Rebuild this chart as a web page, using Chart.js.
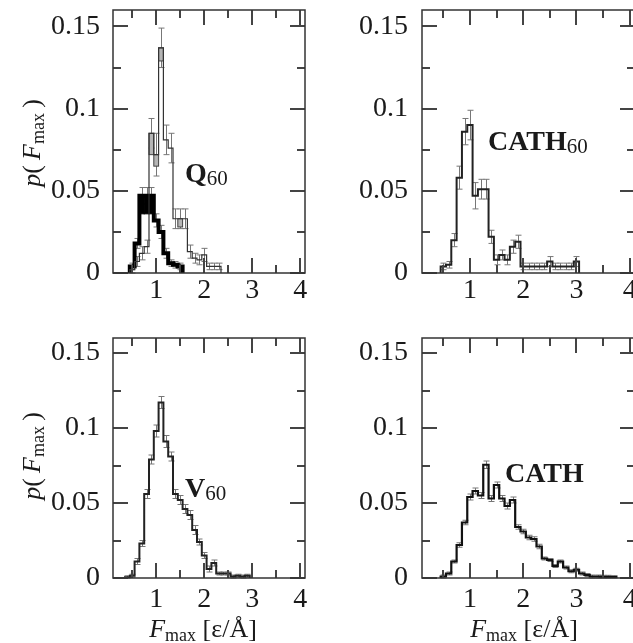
<!DOCTYPE html>
<html>
<head>
<meta charset="utf-8">
<script src="https://cdn.jsdelivr.net/npm/chart.js@4.4.1/dist/chart.umd.min.js"></script>
<style>
html, body { margin: 0; padding: 0; background: #fff; overflow: hidden; width: 633px; height: 643px; }
canvas { position: absolute; }
.t { position: absolute; font-family: 'Liberation Serif', serif; color: #1a1a1a; white-space: nowrap; line-height: 1; }
.lbl { font-size: 28px; font-weight: bold; }
.lbl sub { font-size: 21px; font-weight: normal; vertical-align: -3px; line-height: 0; }
.title { font-size: 26px; }
.title sub { font-size: 18px; vertical-align: -4px; line-height: 0; }
.ytitle { transform: translate(-50%, -50%) rotate(-90deg); }
.xtitle { transform: translateX(-50%); }
</style>
</head>
<body>

<canvas id="p1" width="316" height="310" style="left:0;top:0"></canvas>
<canvas id="p2" width="334" height="310" style="left:316px;top:0"></canvas>
<canvas id="p3" width="316" height="333" style="left:0;top:310px"></canvas>
<canvas id="p4" width="334" height="333" style="left:316px;top:310px"></canvas>

<div class="t lbl" style="left:185px;top:159px">Q<sub>60</sub></div>
<div class="t lbl" style="left:488px;top:127px">CATH<sub>60</sub></div>
<div class="t lbl" style="left:185px;top:474px">V<sub>60</sub></div>
<div class="t lbl" style="left:505px;top:459px">CATH</div>

<div class="t title ytitle" style="left:32px;top:143px"><i>p</i>(&thinsp;<i>F</i><sub>max</sub>&thinsp;)</div>
<div class="t title ytitle" style="left:32px;top:456px"><i>p</i>(&thinsp;<i>F</i><sub>max</sub>&thinsp;)</div>
<div class="t title xtitle" style="left:203px;top:616px"><i>F</i><sub>max</sub> [ε/Å]</div>
<div class="t title xtitle" style="left:524px;top:616px"><i>F</i><sub>max</sub> [ε/Å]</div>

<script>
// axes
const xRange = [0.1, 4.1];
const yRange = [0, 0.16];
const xTickVals = [1, 2, 3, 4];
const xTickLabels = ['1', '2', '3', '4'];
const xMinorVals = [0.5, 1.5, 2.5, 3.5];
const yTickVals = [0, 0.05, 0.1, 0.15];
const yTickLabels = ['0', '0.05', '0.1', '0.15'];
const yMinorVals = [0.025, 0.075, 0.125];
const binWidth = 0.1;

// Q60 (thin line, grey boxes)
const q60Bins   = [0.5, 0.6, 0.7, 0.8, 0.9, 1.0, 1.1, 1.2, 1.3, 1.4, 1.5, 1.6, 1.7, 1.8, 1.9, 2.0, 2.1, 2.2, 2.3];
const q60Values = [0.002, 0.007, 0.012, 0.016, 0.085, 0.072, 0.137, 0.081, 0.076, 0.033, 0.033, 0.033, 0.013, 0.009, 0.008, 0.011, 0.004, 0.004, 0.004];
const q60Errors = [0.002, 0.003, 0.004, 0.004, 0.009, 0.013, 0.012, 0.009, 0.009, 0.006, 0.006, 0.006, 0.004, 0.003, 0.003, 0.004, 0.002, 0.002, 0.002];
const q60BoxLow = [null, null, null, null, 0.072, 0.065, 0.129, null, null, null, 0.028, null, null, null, null, null, null, null, null];

// Q60 second set (thick black)
const q60bBins   = [0.5, 0.6, 0.7, 0.8, 0.9, 1.0, 1.1, 1.2, 1.3, 1.4, 1.5];
const q60bValues = [0.004, 0.018, 0.047, 0.047, 0.047, 0.032, 0.025, 0.012, 0.006, 0.005, 0.004];
const q60bErrors = [0.002, 0.003, 0.005, 0.005, 0.005, 0.004, 0.004, 0.003, 0.002, 0.002, 0.002];
const q60bBoxLow = [null, null, 0.036, 0.036, 0.036, null, null, null, null, null, null];

// CATH60
const cath60Bins   = [0.5, 0.6, 0.7, 0.8, 0.9, 1.0, 1.1, 1.2, 1.3, 1.4, 1.5, 1.6, 1.7, 1.8, 1.9, 2.0, 2.1, 2.2, 2.3, 2.4, 2.5, 2.6, 2.7, 2.8, 2.9, 3.0];
const cath60Values = [0.004, 0.005, 0.020, 0.058, 0.086, 0.090, 0.047, 0.051, 0.051, 0.022, 0.008, 0.011, 0.008, 0.016, 0.019, 0.004, 0.004, 0.004, 0.004, 0.004, 0.007, 0.004, 0.004, 0.004, 0.004, 0.007];
const cath60Errors = [0.002, 0.002, 0.004, 0.007, 0.008, 0.009, 0.008, 0.006, 0.006, 0.004, 0.003, 0.003, 0.003, 0.004, 0.004, 0.002, 0.002, 0.002, 0.002, 0.002, 0.003, 0.002, 0.002, 0.002, 0.002, 0.003];

// V60
const v60Bins   = [0.4, 0.5, 0.6, 0.7, 0.8, 0.9, 1.0, 1.1, 1.2, 1.3, 1.4, 1.5, 1.6, 1.7, 1.8, 1.9, 2.0, 2.1, 2.2, 2.3, 2.4, 2.5, 2.6, 2.7, 2.8, 2.9];
const v60Values = [0.0005, 0.0015, 0.011, 0.023, 0.056, 0.079, 0.098, 0.117, 0.091, 0.081, 0.056, 0.052, 0.046, 0.042, 0.032, 0.024, 0.015, 0.006, 0.010, 0.003, 0.003, 0.003, 0.001, 0.0015, 0.001, 0.0015];
const v60Errors = [0.001, 0.001, 0.002, 0.002, 0.003, 0.003, 0.004, 0.004, 0.004, 0.003, 0.003, 0.003, 0.003, 0.003, 0.003, 0.002, 0.002, 0.002, 0.002, 0.001, 0.001, 0.001, 0.001, 0.001, 0.001, 0.001];

// CATH
const cathBins   = [0.5, 0.6, 0.7, 0.8, 0.9, 1.0, 1.1, 1.2, 1.3, 1.4, 1.5, 1.6, 1.7, 1.8, 1.9, 2.0, 2.1, 2.2, 2.3, 2.4, 2.5, 2.6, 2.7, 2.8, 2.9, 3.0, 3.1, 3.2, 3.3, 3.4, 3.5, 3.6, 3.7];
const cathValues = [0.001, 0.003, 0.011, 0.022, 0.037, 0.054, 0.058, 0.055, 0.0755, 0.053, 0.062, 0.053, 0.048, 0.052, 0.034, 0.031, 0.027, 0.026, 0.021, 0.013, 0.012, 0.008, 0.011, 0.007, 0.0045, 0.0055, 0.003, 0.002, 0.001, 0.001, 0.0008, 0.0008, 0.0006];
const cathErrors = [0.001, 0.001, 0.001, 0.0015, 0.0015, 0.002, 0.002, 0.002, 0.0025, 0.002, 0.002, 0.002, 0.002, 0.002, 0.0015, 0.0015, 0.0015, 0.0015, 0.0015, 0.001, 0.001, 0.001, 0.001, 0.001, 0.001, 0.001, 0.001, 0.001, 0.001, 0.001, 0.001, 0.001, 0.001];

const tickFont = { family: "'Liberation Serif', serif", size: 28, lineHeight: 1 };
const textColor = '#1a1a1a';

function stepPoints(bins, vals) {
  const pts = [{ x: bins[0] - binWidth / 2, y: 0 }];
  bins.forEach((c, i) => pts.push({ x: c - binWidth / 2, y: vals[i] }));
  pts.push({ x: bins[bins.length - 1] + binWidth / 2, y: 0 });
  return pts;
}

function lineSet(bins, vals, color, width) {
  return {
    data: stepPoints(bins, vals),
    borderColor: color,
    borderWidth: width,
    stepped: 'before',
    pointRadius: 0,
    fill: false,
    tension: 0
  };
}

// error bars, boxes, frame and inward ticks
function framePlugin(layers) {
  return {
    id: 'frame',
    beforeDatasetsDraw(chart) {
      const { ctx, scales: { x, y } } = chart;
      ctx.save();
      // error bars first
      layers.forEach(l => {
        ctx.strokeStyle = l.errColor;
        ctx.lineWidth = 1;
        l.bins.forEach((c, i) => {
          const px = Math.round(x.getPixelForValue(c)) + 0.5;
          const top = y.getPixelForValue(l.values[i] + l.errors[i]);
          const bot = y.getPixelForValue(Math.max(0, l.values[i] - l.errors[i]));
          ctx.beginPath();
          ctx.moveTo(px, top); ctx.lineTo(px, bot);
          ctx.moveTo(px - 3, top); ctx.lineTo(px + 3, top);
          ctx.moveTo(px - 3, bot); ctx.lineTo(px + 3, bot);
          ctx.stroke();
        });
      });
      // then the shaded boxes
      layers.forEach(l => {
        if (!l.boxLow) return;
        l.bins.forEach((c, i) => {
          if (l.boxLow[i] == null) return;
          const x0 = x.getPixelForValue(c - binWidth / 2);
          const x1 = x.getPixelForValue(c + binWidth / 2);
          const y0 = y.getPixelForValue(l.values[i]);
          const y1 = y.getPixelForValue(l.boxLow[i]);
          ctx.fillStyle = l.boxColor;
          ctx.fillRect(x0, y0, x1 - x0, y1 - y0);
          ctx.strokeStyle = l.boxEdge;
          ctx.lineWidth = 1;
          ctx.strokeRect(x0, y0, x1 - x0, y1 - y0);
        });
      });
      ctx.restore();
    },
    afterDraw(chart) {
      const { ctx, chartArea: a, scales: { x, y } } = chart;
      ctx.save();
      ctx.strokeStyle = '#444';
      ctx.lineWidth = 2;
      const seg = (x0, y0, x1, y1) => { ctx.beginPath(); ctx.moveTo(x0, y0); ctx.lineTo(x1, y1); ctx.stroke(); };
      const xt = (v, len) => { const p = Math.round(x.getPixelForValue(v)); seg(p, a.bottom, p, a.bottom - len); seg(p, a.top, p, a.top + len); };
      const yt = (v, len) => { const p = Math.round(y.getPixelForValue(v)); seg(a.left, p, a.left + len, p); seg(a.right, p, a.right - len, p); };
      xTickVals.forEach(v => xt(v, 15));
      xMinorVals.forEach(v => xt(v, 8));
      yTickVals.forEach(v => yt(v, 15));
      yMinorVals.forEach(v => yt(v, 8));
      ctx.strokeStyle = '#333';
      ctx.lineWidth = 1.5;
      ctx.strokeRect(a.left, a.top, a.right - a.left, a.bottom - a.top);
      ctx.restore();
    }
  };
}

function makePanel(id, datasets, layers, g) {
  new Chart(document.getElementById(id), {
    type: 'line',
    data: { datasets: datasets },
    plugins: [framePlugin(layers)],
    options: {
      responsive: false,
      animation: false,
      events: [],
      layout: { padding: { top: g.top, right: g.right, left: 0, bottom: 0 } },
      plugins: { legend: { display: false }, tooltip: { enabled: false } },
      scales: {
        x: {
          type: 'linear', min: xRange[0], max: xRange[1],
          grid: { display: false, drawTicks: false }, border: { display: false },
          afterBuildTicks: s => { s.ticks = xTickVals.map(v => ({ value: v })); },
          afterFit: s => { s.height = g.xh; s.paddingLeft = 0; s.paddingRight = 0; },
          ticks: { autoSkip: false, maxRotation: 0, padding: g.xpad, font: tickFont, color: textColor,
                   callback: (v, i) => xTickLabels[i] }
        },
        y: {
          type: 'linear', min: yRange[0], max: yRange[1],
          grid: { display: false, drawTicks: false }, border: { display: false },
          afterBuildTicks: s => { s.ticks = yTickVals.map(v => ({ value: v })); },
          afterFit: s => { s.width = g.yw; s.paddingTop = 0; s.paddingBottom = 0; },
          ticks: { autoSkip: false, padding: g.ypad, font: tickFont, color: textColor,
                   callback: (v, i) => yTickLabels[i] }
        }
      }
    }
  });
}

makePanel('p1',
  [lineSet(q60Bins, q60Values, '#333', 1.2), lineSet(q60bBins, q60bValues, '#000', 4)],
  [
    { bins: q60Bins, values: q60Values, errors: q60Errors, boxLow: q60BoxLow, boxColor: '#b5b5b5', boxEdge: '#444', errColor: '#777' },
    { bins: q60bBins, values: q60bValues, errors: q60bErrors, boxLow: q60bBoxLow, boxColor: '#000', boxEdge: '#000', errColor: '#777' }
  ],
  { top: 10, right: 11, xh: 37, yw: 113, xpad: 4, ypad: 13 });

makePanel('p2',
  [lineSet(cath60Bins, cath60Values, '#222', 2)],
  [{ bins: cath60Bins, values: cath60Values, errors: cath60Errors, errColor: '#777' }],
  { top: 10, right: 15, xh: 37, yw: 106, xpad: 4, ypad: 14 });

makePanel('p3',
  [lineSet(v60Bins, v60Values, '#222', 2)],
  [{ bins: v60Bins, values: v60Values, errors: v60Errors, errColor: '#777' }],
  { top: 28, right: 11, xh: 65, yw: 113, xpad: 8, ypad: 13 });

makePanel('p4',
  [lineSet(cathBins, cathValues, '#111', 2.2)],
  [{ bins: cathBins, values: cathValues, errors: cathErrors, errColor: '#777' }],
  { top: 28, right: 15, xh: 65, yw: 106, xpad: 8, ypad: 14 });
</script>
</body>
</html>
